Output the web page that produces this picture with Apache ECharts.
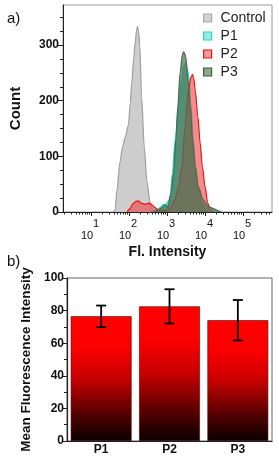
<!DOCTYPE html>
<html><head><meta charset="utf-8">
<script src="https://cdn.jsdelivr.net/npm/echarts@6/dist/echarts.min.js"></script>
<style>html,body{margin:0;padding:0;background:#fff}#c{width:279px;height:462px}</style>
</head><body><div id="c"></div>
<script>
// ---- Panel a) histograms: x = log10(Fl. Intensity), y = Count ----
const controlX = [1.58,1.63,1.68,1.76,1.83,1.90,1.98,2.03,2.07,2.12,2.16,2.20,2.22,2.25,2.28,2.33,2.40,2.47,2.55,2.62,2.70];
const controlY = [0,3,40,90,118,135,156,195,233,275,306,328,333,325,300,205,115,54,18,4,0];
const p1X = [2.55,2.65,2.75,2.85,2.90,2.95,3.00,3.05,3.08,3.14,3.21,3.30,3.38,3.44,3.47,3.51,3.56,3.63,3.69,3.75,3.82,3.91,4.00,4.10];
const p1Y = [0,2,5,10,14,12,17,22,27,70,129,189,236,262,267,262,249,189,129,81,45,16,4,0];
const p2X = [1.95,2.02,2.10,2.18,2.24,2.32,2.42,2.52,2.60,2.68,2.78,2.90,3.00,3.10,3.20,3.30,3.39,3.47,3.56,3.63,3.67,3.70,3.74,3.81,3.87,3.93,4.00,4.07,4.13,4.22];
const p2Y = [0,6,15,19,20,16,14,16,13,8,3,2,4,8,22,45,81,153,219,243,247,240,219,171,124,81,45,16,4,0];
const p3X = [2.65,2.75,2.85,2.95,3.02,3.10,3.17,3.23,3.28,3.34,3.40,3.43,3.46,3.49,3.56,3.61,3.67,3.74,3.82,3.95,4.05,4.15,4.25,4.35,4.42];
const p3Y = [0,3,7,13,9,34,70,129,189,249,282,288,285,279,231,189,129,81,45,22,13,8,5,2,0];
const xMajorTicks = [1,2,3,4,5];
const yMajorTicks = [0,100,200,300];
// ---- Panel b) bars ----
const barCats = ['P1','P2','P3'];
const barMeans = [76.5, 82.6, 74.1];
const barErrs = [6.6, 10.5, 12.4];

const FONT = 'Liberation Sans, Arial, sans-serif';
const zip = (xs, ys) => xs.map((x, i) => [x, ys[i]]);

const xMinor = [];
for (let n = 0; n <= 5; n++) for (let k = 2; k <= 9; k++) {
  const v = n + Math.log10(k);
  if (v > 0.26 && v < 5.76) xMinor.push(v);
}
const yMinor = [];
for (let v = 25; v <= 350; v += 25) if (v % 100 !== 0) yMinor.push(v);

function hist(name, xs, ys, line, fill, z) {
  return {
    name, type: 'line', xAxisIndex: 0, yAxisIndex: 0, data: zip(xs, ys),
    smooth: 0.3, smoothMonotone: 'x', symbol: 'none', z,
    lineStyle: { color: line, width: 1.2 },
    itemStyle: { color: line },
    areaStyle: { color: fill, opacity: 1 }
  };
}

const chart = echarts.init(document.getElementById('c'), null, { renderer: 'canvas' });
chart.setOption({
  animation: false,
  backgroundColor: '#fff',
  textStyle: { fontFamily: FONT },
  grid: [
    { left: 63, right: 7, top: 5, height: 207, show: true, borderColor: '#999', borderWidth: 1 },
    { left: 67, right: 7, top: 278, height: 163, show: true, borderColor: '#666', borderWidth: 1 }
  ],
  graphic: [
    { type: 'text', left: 7, top: 11, style: { text: 'a)', font: '15px ' + FONT, fill: '#111' } },
    { type: 'text', left: 7, top: 254, style: { text: 'b)', font: '15px ' + FONT, fill: '#111' } }
  ],
  legend: {
    orient: 'vertical', left: 198, top: 6, itemWidth: 8, itemHeight: 8, itemGap: 4,
    icon: 'rect', selectedMode: false,
    textStyle: { fontSize: 14, color: '#222', fontFamily: FONT, padding: [0, 0, 0, 4] },
    data: [
      { name: 'Control', itemStyle: { color: '#d2d2d2', borderColor: '#a8a8a8', borderWidth: 1.2 } },
      { name: 'P1', itemStyle: { color: '#9de9e2', borderColor: '#1fd6d6', borderWidth: 1.2 } },
      { name: 'P2', itemStyle: { color: '#f59a9a', borderColor: '#f01010', borderWidth: 1.2 } },
      { name: 'P3', itemStyle: { color: '#8ea58a', borderColor: '#3d5d3d', borderWidth: 1.2 } }
    ]
  },
  xAxis: [
    {
      gridIndex: 0, type: 'value', min: 0.26, max: 5.76,
      name: 'Fl. Intensity', nameLocation: 'middle', nameGap: 33,
      nameTextStyle: { fontSize: 14, fontWeight: 'bold', color: '#111', fontFamily: FONT },
      axisLine: { show: true, lineStyle: { color: '#222', width: 1 } },
      axisTick: { show: true, customValues: xMajorTicks, length: 4, lineStyle: { color: '#222' } },
      axisLabel: {
        customValues: xMajorTicks, margin: 6, color: '#111',
        formatter: v => '{s|' + v + '}\n{b|10}',
        rich: {
          s: { fontSize: 11, fontFamily: FONT, lineHeight: 11, padding: [0, 3, 0, 13], color: '#111' },
          b: { fontSize: 11, fontFamily: FONT, lineHeight: 13, padding: [0, 8, 0, 0], color: '#111' }
        }
      },
      splitLine: { show: false }
    },
    {
      gridIndex: 0, type: 'value', min: 0.26, max: 5.76, position: 'bottom',
      axisLine: { show: false },
      axisTick: { show: true, customValues: xMinor, length: 2.5, lineStyle: { color: '#222' } },
      axisLabel: { show: false }, splitLine: { show: false }
    },
    {
      gridIndex: 1, type: 'category', data: barCats,
      axisLine: { lineStyle: { color: '#222', width: 1.2 } },
      axisTick: { show: false },
      axisLabel: { fontSize: 12, fontWeight: 'bold', color: '#111', margin: 3, fontFamily: FONT }
    }
  ],
  yAxis: [
    {
      gridIndex: 0, type: 'value', min: 0, max: 372,
      name: 'Count', nameLocation: 'middle', nameGap: 40, nameRotate: 90,
      nameTextStyle: { fontSize: 15, fontWeight: 'bold', color: '#111', fontFamily: FONT },
      axisLine: { show: true, lineStyle: { color: '#222', width: 1 } },
      axisTick: { show: true, customValues: yMajorTicks, length: 5, lineStyle: { color: '#222' } },
      axisLabel: { customValues: yMajorTicks, fontSize: 12, fontWeight: 'bold', color: '#111', margin: 4, fontFamily: FONT },
      splitLine: { show: false }
    },
    {
      gridIndex: 0, type: 'value', min: 0, max: 372, position: 'left',
      axisLine: { show: false },
      axisTick: { show: true, customValues: yMinor, length: 3, lineStyle: { color: '#222' } },
      axisLabel: { show: false }, splitLine: { show: false }
    },
    {
      gridIndex: 1, type: 'value', min: 0, max: 100, interval: 20,
      name: 'Mean Fluorescence Intensity', nameLocation: 'middle', nameGap: 17, nameRotate: 90,
      nameTextStyle: { fontSize: 13.5, fontWeight: 'bold', color: '#111', fontFamily: FONT },
      axisLine: { show: true, lineStyle: { color: '#222', width: 1.2 } },
      axisTick: { show: true, length: 5, lineStyle: { color: '#222' } },
      minorTick: { show: true, splitNumber: 2, length: 3, lineStyle: { color: '#222' } },
      axisLabel: { fontSize: 12, fontWeight: 'bold', color: '#111', margin: 3, fontFamily: FONT },
      splitLine: { show: false }
    }
  ],
  series: [
    hist('Control', controlX, controlY, '#9e9e9e', 'rgba(196,196,196,0.85)', 2),
    hist('P1', p1X, p1Y, '#1fd6d6', 'rgba(40,205,185,0.75)', 3),
    hist('P2', p2X, p2Y, '#f01010', 'rgba(235,70,70,0.62)', 4),
    hist('P3', p3X, p3Y, '#4a6a4a', 'rgba(80,112,82,0.72)', 5),
    {
      type: 'bar', xAxisIndex: 2, yAxisIndex: 2, data: barMeans, barWidth: '89%',
      itemStyle: {
        borderColor: '#5a0000', borderWidth: 0.6,
        color: new echarts.graphic.LinearGradient(0, 0, 0, 1, [
          { offset: 0, color: '#ff0000' },
          { offset: 0.25, color: '#fb0000' },
          { offset: 0.5, color: '#c80000' },
          { offset: 0.78, color: '#560000' },
          { offset: 1, color: '#080000' }
        ])
      }
    },
    {
      type: 'custom', xAxisIndex: 2, yAxisIndex: 2, z: 10,
      data: barMeans.map((m, i) => [i, m - barErrs[i], m + barErrs[i]]),
      renderItem: (params, api) => {
        const i = api.value(0);
        const lo = api.coord([i, api.value(1)]);
        const hi = api.coord([i, api.value(2)]);
        const w = 5;
        const st = { stroke: '#000', lineWidth: 1.8 };
        return {
          type: 'group', children: [
            { type: 'line', shape: { x1: lo[0], y1: lo[1], x2: hi[0], y2: hi[1] }, style: st },
            { type: 'line', shape: { x1: lo[0] - w, y1: lo[1], x2: lo[0] + w, y2: lo[1] }, style: st },
            { type: 'line', shape: { x1: hi[0] - w, y1: hi[1], x2: hi[0] + w, y2: hi[1] }, style: st }
          ]
        };
      }
    }
  ]
});
</script></body></html>
